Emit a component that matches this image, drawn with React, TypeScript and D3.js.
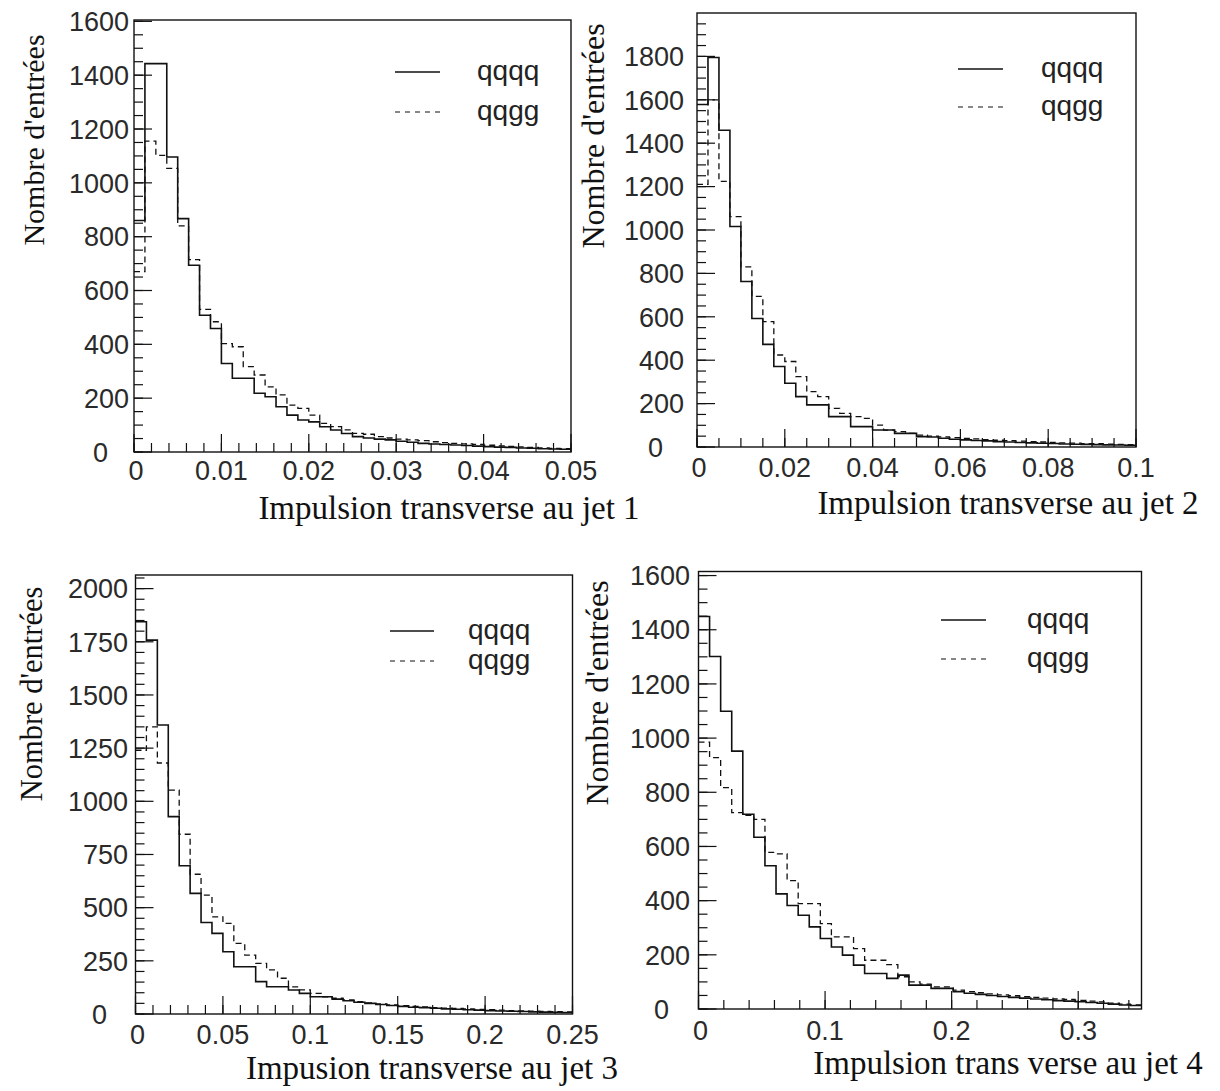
import React from "react";
import * as d3 from "d3";

// ---------- data ----------
const BIN_COUNT = 40;
const X_MAX = [0.05, 0.1, 0.25, 0.35];
const Y_MAX = [1605, 2000, 2064, 1615];

const QQQQ_JET1 = [860,1443,1443,1096,867,694,508,459,329,274,274,218,205,168,137,119,112,94,82,69,57,52,48,45,40,36,32,30,28,26,24,22,20,18,17,15,14,12,11,10];
const QQGG_JET1 = [670,1155,1102,1054,840,715,530,484,403,391,317,286,242,212,174,162,137,106,94,82,69,66,57,52,48,45,42,38,35,32,30,28,25,23,21,19,17,15,13,12];
const QQQQ_JET2 = [1578,1795,1460,1016,763,592,473,371,294,232,194,194,140,140,94,94,78,78,63,63,48,46,40,36,33,30,28,25,23,21,19,17,16,14,13,12,11,10,9,8];
const QQGG_JET2 = [1210,1600,1224,1062,830,694,578,424,394,324,255,232,178,155,140,132,101,78,71,63,55,50,47,43,40,37,34,31,29,27,25,23,21,19,18,16,15,13,12,11];
const QQQQ_JET3 = [1844,1758,1359,928,697,567,430,379,293,222,222,152,128,128,113,97,81,81,70,62,55,50,45,40,36,32,30,27,24,22,20,18,16,14,13,12,10,9,8,7];
const QQGG_JET3 = [1240,1350,1180,1053,845,657,559,457,426,332,277,238,207,168,128,113,97,81,74,66,58,52,47,43,39,36,33,30,28,26,24,22,20,18,16,15,13,12,11,10];
const QQQQ_JET4 = [1449,1301,1099,952,719,634,529,425,382,346,303,260,229,199,162,131,131,113,125,88,88,76,76,64,58,54,50,46,43,40,37,34,31,29,27,24,21,18,15,13];
const QQGG_JET4 = [985,928,817,725,715,700,578,573,474,389,389,315,266,266,223,180,180,164,119,100,92,82,82,70,64,60,56,52,49,46,43,40,37,35,32,29,26,22,18,15];

const X_TICK_LABELS = [
  ["0", "0.01", "0.02", "0.03", "0.04", "0.05"],
  ["0", "0.02", "0.04", "0.06", "0.08", "0.1"],
  ["0", "0.05", "0.1", "0.15", "0.2", "0.25"],
  ["0", "0.1", "0.2", "0.3"],
];
const X_MINOR_STEP = [0.002, 0.005, 0.01, 0.02];
const Y_TICK_VALUES = [
  [0, 200, 400, 600, 800, 1000, 1200, 1400, 1600],
  [0, 200, 400, 600, 800, 1000, 1200, 1400, 1600, 1800],
  [0, 250, 500, 750, 1000, 1250, 1500, 1750, 2000],
  [0, 200, 400, 600, 800, 1000, 1200, 1400, 1600],
];
const Y_MINOR_STEP = [50, 50, 50, 50];

const X_TITLES = [
  "Impulsion transverse au jet 1",
  "Impulsion transverse au jet 2",
  "Impusion transverse au jet 3",
  "Impulsion trans verse au jet 4",
];
const Y_TITLE = "Nombre d'entrées";
const LEGEND_LABELS = ["qqqq", "qqgg"];

const SERIES = [
  [QQQQ_JET1, QQGG_JET1],
  [QQQQ_JET2, QQGG_JET2],
  [QQQQ_JET3, QQGG_JET3],
  [QQQQ_JET4, QQGG_JET4],
];

// ---------- layout ----------
const LAYOUT = [
  { l: 134, t: 20, r: 571, b: 452, xtY: 480, ylEnd: 129, xTitle: [449, 519], yTitle: [33, 140], yts: 30, leg: [395, 440, 477, 72, 112] },
  { l: 697, t: 13, r: 1136, b: 447, xtY: 477, ylEnd: 684, xTitle: [1008, 514], yTitle: [593, 136], yts: 32, leg: [958, 1003, 1041, 69, 107] },
  { l: 135.5, t: 575, r: 572.5, b: 1014, xtY: 1044, ylEnd: 128, xTitle: [432, 1079], yTitle: [31, 694], yts: 30.5, leg: [390, 434, 468, 631, 661] },
  { l: 698.5, t: 571.5, r: 1141.5, b: 1009, xtY: 1040, ylEnd: 690, xTitle: [1008, 1074], yTitle: [597, 693], yts: 32, leg: [941, 986, 1027, 620, 659] },
];

const TICK_FONT = "'Liberation Sans', Arial, sans-serif";
const SERIF = "'Liberation Serif', 'Times New Roman', serif";
const INK = "#111";

function Panel({ idx }: { idx: number }) {
  const L = LAYOUT[idx];
  const x = d3.scaleLinear().domain([0, X_MAX[idx]]).range([L.l, L.r]);
  const y = d3.scaleLinear().domain([0, Y_MAX[idx]]).range([L.b, L.t]);
  const binW = X_MAX[idx] / BIN_COUNT;

  const stepLine = d3
    .line<[number, number]>()
    .x((d) => x(d[0]))
    .y((d) => y(d[1]))
    .curve(d3.curveStepAfter);

  const makePts = (vals: number[]): [number, number][] => {
    const pts: [number, number][] = vals.map((v, i) => [i * binW, v]);
    pts.push([BIN_COUNT * binW, vals[vals.length - 1]]);
    return pts;
  };

  const xLabels = X_TICK_LABELS[idx];
  const xMinor = d3.range(0, X_MAX[idx] + 1e-9, X_MINOR_STEP[idx]);
  const yTicks = Y_TICK_VALUES[idx];
  const yMinor = d3.range(0, Y_MAX[idx] - 1, Y_MINOR_STEP[idx]);
  const MAJ = 18, MIN = 9;

  const [ll1, ll2, lt, ly1, ly2] = L.leg;

  return (
    <g>
      {xMinor.map((v, i) => (
        <line key={"xm" + i} x1={x(v)} x2={x(v)} y1={L.b} y2={L.b - MIN} stroke={INK} strokeWidth={1.2} />
      ))}
      {xLabels.map((s, i) => (
        <line key={"xM" + i} x1={x(+s)} x2={x(+s)} y1={L.b} y2={L.b - MAJ} stroke={INK} strokeWidth={1.2} />
      ))}
      {yMinor.map((v, i) => (
        <line key={"ym" + i} x1={L.l} x2={L.l + MIN} y1={y(v)} y2={y(v)} stroke={INK} strokeWidth={1.2} />
      ))}
      {yTicks.map((v, i) => (
        <line key={"yM" + i} x1={L.l} x2={L.l + MAJ} y1={y(v)} y2={y(v)} stroke={INK} strokeWidth={1.2} />
      ))}

      <path d={stepLine(makePts(SERIES[idx][1])) || ""} fill="none" stroke={INK} strokeWidth={1.3} strokeDasharray="6,4" />
      <path d={stepLine(makePts(SERIES[idx][0])) || ""} fill="none" stroke={INK} strokeWidth={1.6} />

      <rect x={L.l} y={L.t} width={L.r - L.l} height={L.b - L.t} fill="none" stroke={INK} strokeWidth={1.4} />

      {xLabels.map((s, i) => (
        <text key={"xl" + i} x={x(+s) + (i === 0 ? 2 : 0)} y={L.xtY} textAnchor="middle" fontFamily={TICK_FONT} fontSize={27} fill="#2a2a2a">
          {s}
        </text>
      ))}
      {yTicks.map((v, i) => (
        <text key={"yl" + i} x={v === 0 ? L.ylEnd - 21 : L.ylEnd} y={y(v)} dy="0.36em" textAnchor="end" fontFamily={TICK_FONT} fontSize={27} fill="#2a2a2a">
          {String(v)}
        </text>
      ))}

      <line x1={ll1} x2={ll2} y1={ly1} y2={ly1} stroke={INK} strokeWidth={1.3} />
      <line x1={ll1} x2={ll2} y1={ly2} y2={ly2} stroke={INK} strokeWidth={1.2} strokeDasharray="5,5" />
      <text x={lt} y={ly1} dy="0.3em" fontFamily={TICK_FONT} fontSize={28} fill="#222">{LEGEND_LABELS[0]}</text>
      <text x={lt} y={ly2} dy="0.3em" fontFamily={TICK_FONT} fontSize={28} fill="#222">{LEGEND_LABELS[1]}</text>

      <text x={L.xTitle[0]} y={L.xTitle[1]} textAnchor="middle" fontFamily={SERIF} fontSize={33} fill={INK}>
        {X_TITLES[idx]}
      </text>
      <text
        transform={`translate(${L.yTitle[0]},${L.yTitle[1]}) rotate(-90)`}
        textAnchor="middle"
        dy="0.35em"
        fontFamily={SERIF}
        fontSize={L.yts}
        fill={INK}
      >
        {Y_TITLE}
      </text>
    </g>
  );
}

export default function App() {
  return (
    <div style={{ position: "absolute", left: 0, top: 0 }}>
      <svg width={1220} height={1091} viewBox="0 0 1220 1091" style={{ display: "block", background: "#fff" }}>
        <rect x={0} y={0} width={1220} height={1091} fill="#fff" />
        {[0, 1, 2, 3].map((i) => (
          <Panel key={i} idx={i} />
        ))}
      </svg>
    </div>
  );
}
